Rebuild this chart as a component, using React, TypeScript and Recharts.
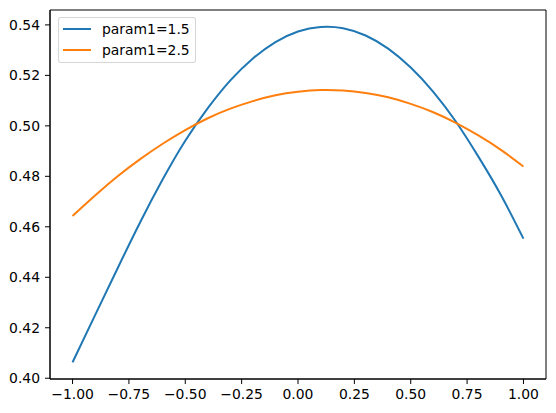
import { LineChart, Line, XAxis, YAxis, Legend, ReferenceArea } from "recharts";

const BLUE = "#1f77b4";
const ORANGE = "#ff7f0e";
const FONT = "'DejaVu Sans', sans-serif";

const xValues = [
  -1.0, -0.9, -0.8, -0.7, -0.6, -0.5, -0.4, -0.3, -0.2, -0.1, 0.0, 0.1, 0.2,
  0.3, 0.4, 0.5, 0.6, 0.7, 0.8, 0.9, 1.0,
];
const param15 = [
  0.4063, 0.425, 0.4436, 0.4618, 0.4788, 0.4941, 0.507, 0.518, 0.5267,
  0.5332, 0.5374, 0.5392, 0.5387, 0.5358, 0.5306, 0.5231, 0.5135, 0.5017,
  0.4878, 0.4726, 0.4553,
];
const param25 = [
  0.4643, 0.4724, 0.48, 0.4868, 0.4929, 0.4983, 0.503, 0.5068, 0.5098,
  0.5121, 0.5135, 0.5142, 0.514, 0.513, 0.5113, 0.5087, 0.5054, 0.5012,
  0.4962, 0.4905, 0.4839,
];
const seriesNames = ["param1=1.5", "param1=2.5"];
const xTicks = [-1, -0.75, -0.5, -0.25, 0, 0.25, 0.5, 0.75, 1];
const yTicks = [0.4, 0.42, 0.44, 0.46, 0.48, 0.5, 0.52, 0.54];

const data = xValues.map((x, i) => ({ x, a: param15[i], b: param25[i] }));

const X_DOMAIN: [number, number] = [-1.1, 1.1];
const Y_DOMAIN: [number, number] = [0.3997, 0.5459];

function LegendBox() {
  const items = [
    { name: seriesNames[0], color: BLUE },
    { name: seriesNames[1], color: ORANGE },
  ];
  return (
    <div
      style={{
        background: "rgba(255,255,255,0.8)",
        border: "1px solid rgba(204,204,204,0.8)",
        borderRadius: 3,
        padding: "0 5px 2px 4px",
        fontFamily: FONT,
        fontSize: 13.9,
        color: "#000",
        width: "fit-content",
      }}
    >
      {items.map((it) => (
        <div
          key={it.name}
          style={{ display: "flex", alignItems: "center", height: 21 }}
        >
          <span
            style={{
              display: "inline-block",
              width: 28,
              height: 2,
              background: it.color,
              marginRight: 11,
            }}
          />
          {it.name}
        </div>
      ))}
    </div>
  );
}

const tickStyle = { fontSize: 13.9, fill: "#000", fontFamily: FONT };

export default function App() {
  return (
    <div style={{ position: "absolute", left: 0, top: 0 }}>
      <LineChart
        width={556}
        height={413}
        data={data}
        margin={{ top: 10, right: 10, bottom: 0, left: 0 }}
      >
        <XAxis
          type="number"
          dataKey="x"
          domain={X_DOMAIN}
          ticks={xTicks}
          allowDataOverflow
          height={34}
          tick={tickStyle}
          tickSize={5}
          tickMargin={5}
          stroke="#000"
          tickFormatter={(v: number) => v.toFixed(2).replace("-", "\u2212")}
        />
        <YAxis
          type="number"
          domain={Y_DOMAIN}
          ticks={yTicks}
          allowDataOverflow
          width={50}
          tick={tickStyle}
          tickSize={5}
          tickMargin={5}
          stroke="#000"
          tickFormatter={(v: number) => v.toFixed(2)}
        />
        <ReferenceArea
          x1={X_DOMAIN[0]}
          x2={X_DOMAIN[1]}
          y1={Y_DOMAIN[0]}
          y2={Y_DOMAIN[1]}
          fill="none"
          stroke="#000"
          strokeWidth={1}
        />
        <Legend
          layout="horizontal"
          verticalAlign="middle"
          align="center"
          content={() => <LegendBox />}
          wrapperStyle={{ top: 17, left: 58, width: "auto" }}
        />
        <Line
          type="natural"
          dataKey="a"
          name={seriesNames[0]}
          stroke={BLUE}
          strokeWidth={2}
          dot={false}
          isAnimationActive={false}
        />
        <Line
          type="natural"
          dataKey="b"
          name={seriesNames[1]}
          stroke={ORANGE}
          strokeWidth={2}
          dot={false}
          isAnimationActive={false}
        />
      </LineChart>
    </div>
  );
}
